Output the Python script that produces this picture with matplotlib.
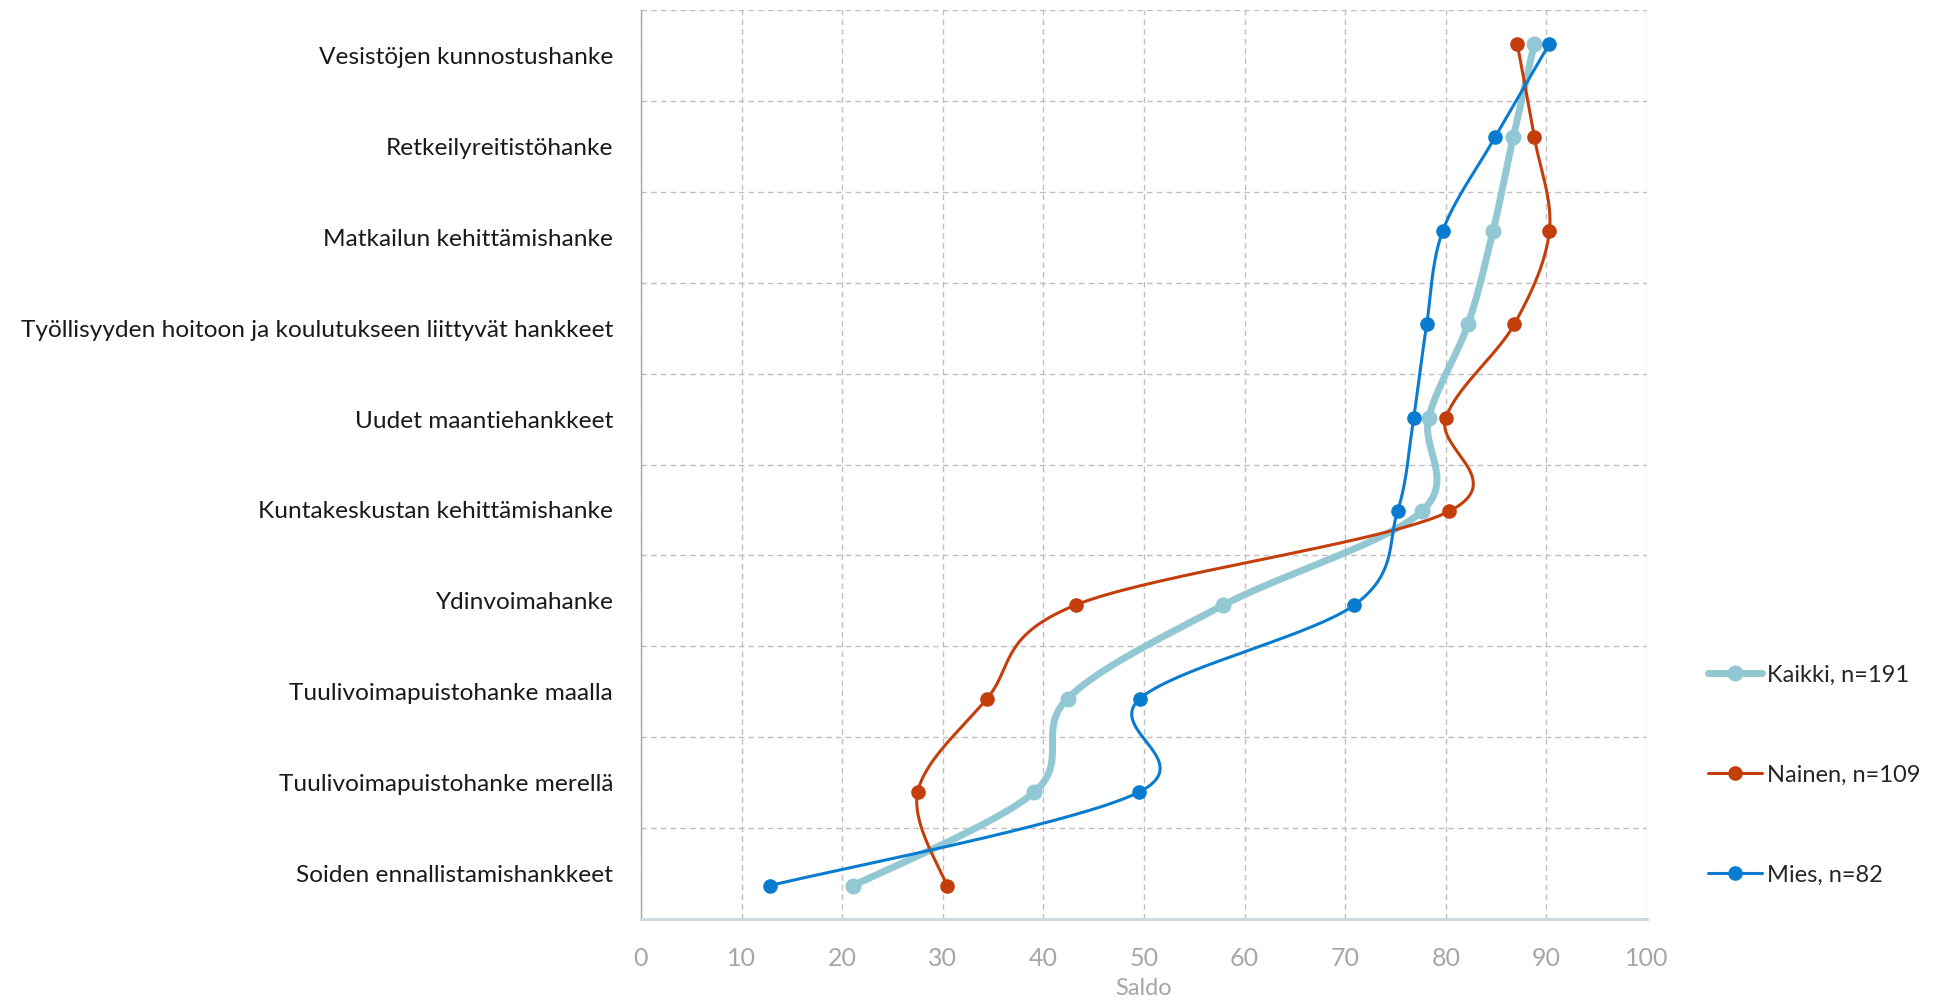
import matplotlib
matplotlib.use("Agg")
import matplotlib.pyplot as plt
from matplotlib.lines import Line2D
import numpy as np

# categories listed top to bottom
categories = [
    "Vesistöjen kunnostushanke",
    "Retkeilyreitistöhanke",
    "Matkailun kehittämishanke",
    "Työllisyyden hoitoon ja koulutukseen liittyvät hankkeet",
    "Uudet maantiehankkeet",
    "Kuntakeskustan kehittämishanke",
    "Ydinvoimahanke",
    "Tuulivoimapuistohanke maalla",
    "Tuulivoimapuistohanke merellä",
    "Soiden ennallistamishankkeet",
]

kaikki = [88.8, 86.7, 84.7, 82.2, 78.3, 77.6, 57.9, 42.4, 39.1, 21.1]
nainen = [87.1, 88.8, 90.3, 86.8, 80.0, 80.3, 43.2, 34.4, 27.5, 30.4]
mies = [90.3, 84.9, 79.7, 78.1, 76.8, 75.2, 70.9, 49.6, 49.5, 12.8]

series_names = ["Kaikki, n=191", "Nainen, n=109", "Mies, n=82"]
xticks = [0, 10, 20, 30, 40, 50, 60, 70, 80, 90, 100]

FONT = "Lato"


def excel_smooth(ax, xs, ys, steps=40):
    # smoothed line like Excel: cubic bezier, control points from neighbours,
    # computed in pixel space
    pts = ax.transData.transform(np.column_stack([xs, ys]))
    n = len(pts)
    out = [pts[0]]
    t = np.linspace(0, 1, steps)[1:, None]
    for i in range(n - 1):
        p0 = pts[i - 1] if i > 0 else pts[i]
        p1 = pts[i]
        p2 = pts[i + 1]
        p3 = pts[i + 2] if i + 2 < n else pts[i + 1]
        c1 = p1 + (p2 - p0) / 6.0
        c2 = p2 - (p3 - p1) / 6.0
        seg = ((1 - t) ** 3) * p1 + 3 * ((1 - t) ** 2) * t * c1 + 3 * (1 - t) * t ** 2 * c2 + t ** 3 * p2
        out.extend(seg)
    out = np.array(out)
    data = ax.transData.inverted().transform(out)
    return data[:, 0], data[:, 1]


fig = plt.figure(figsize=(19.34, 10.0), dpi=100)
ax = fig.add_axes([641 / 1934, 81 / 1000, 1006 / 1934, 909 / 1000])

n = len(categories)
ax.set_xlim(0, 100)
ax.set_ylim(0, n)
ax.set_xticks(xticks)
ax.set_xticklabels([str(v) for v in xticks], fontsize=18, color="#a6a6a6", family=FONT)
ax.set_yticks(np.arange(n) + 0.5)
ax.set_yticklabels(categories[::-1], fontsize=17.6, color="#1a1a1a", family=FONT)
ax.set_yticks(np.arange(1, n + 1), minor=True)
ax.tick_params(axis="both", which="both", length=0)
ax.tick_params(axis="x", pad=20)
ax.tick_params(axis="y", pad=20)
ax.grid(axis="x", which="major", color="#bfbfbf", linestyle=(0, (4, 3)), linewidth=1)
ax.grid(axis="y", which="minor", color="#bfbfbf", linestyle=(0, (4, 3)), linewidth=1)
ax.set_xlabel("Saldo", fontsize=17, color="#a6a6a6", family=FONT, labelpad=6)
for side in ["top", "right"]:
    ax.spines[side].set_visible(False)
ax.spines["left"].set_color("#a6a6a6")
ax.spines["left"].set_linewidth(1)
ax.spines["bottom"].set_color("#d0dbe0")
ax.spines["bottom"].set_linewidth(2.2)
ax.set_axisbelow(True)

# points live on a secondary value axis
ax2 = ax.twinx()
ax2.set_ylim(0.644, 10.36)
ax2.set_xlim(0, 100)
ax2.axis("off")

ypos = np.arange(n, 0, -1)
styles = [
    (kaikki, "#92c7d4", 5.0, 10.5),
    (nainen, "#c43e0c", 2.2, 9.5),
    (mies, "#0a7ccf", 2.2, 9.5),
]
handles = []
for (vals, col, lw, ms), name in zip(styles, series_names):
    sx, sy = excel_smooth(ax2, np.array(vals), ypos.astype(float))
    ax2.plot(sx, sy, color=col, linewidth=lw, solid_capstyle="round", zorder=3)
    ax2.plot(vals, ypos, linestyle="none", marker="o", markersize=ms, color=col, zorder=4)
    handles.append(Line2D([0], [0], color=col, linewidth=lw, marker="o", markersize=ms,
                          solid_capstyle="round", label=name))

fig.legend(handles=handles, loc="center left", bbox_to_anchor=(1696 / 1934, 1 - 775 / 1000),
           frameon=False, prop={"family": FONT, "size": 17}, labelspacing=3.35,
           handlelength=2.3, handletextpad=0.2, borderpad=0, labelcolor="#262626")

fig.savefig("out.png", dpi=100)
